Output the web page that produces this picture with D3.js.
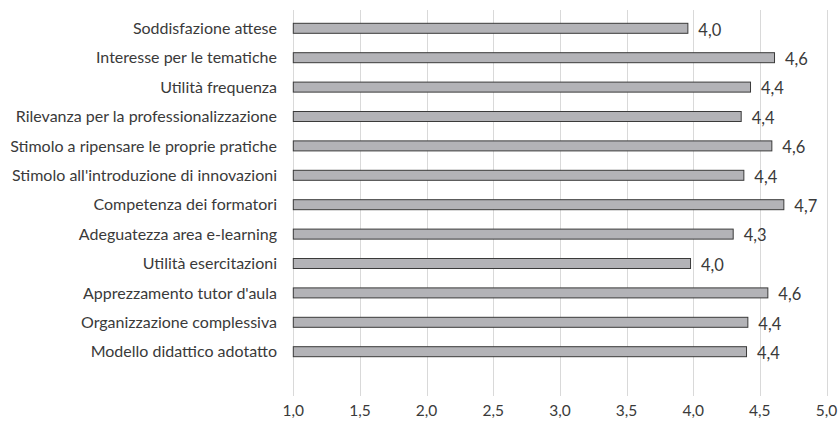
<!DOCTYPE html>
<html>
<head>
<meta charset="utf-8">
<script src="https://cdn.jsdelivr.net/npm/d3@7"></script>
<style>
  html, body { margin: 0; padding: 0; background: #fff; }
  svg { display: block; }
  text { font-family: Lato, "Open Sans", sans-serif; fill: #3a3a3a; }
</style>
</head>
<body>
<svg id="chart" width="838" height="426"></svg>
<script>
const categories = [
  "Soddisfazione attese",
  "Interesse per le tematiche",
  "Utilità frequenza",
  "Rilevanza per la professionalizzazione",
  "Stimolo a ripensare le proprie pratiche",
  "Stimolo all'introduzione di innovazioni",
  "Competenza dei formatori",
  "Adeguatezza area e-learning",
  "Utilità esercitazioni",
  "Apprezzamento tutor d'aula",
  "Organizzazione complessiva",
  "Modello didattico adotatto "
];
const values = [3.96, 4.61, 4.43, 4.36, 4.59, 4.38, 4.68, 4.30, 3.98, 4.56, 4.41, 4.40];
const valueLabels = ["4,0", "4,6", "4,4", "4,4", "4,6", "4,4", "4,7", "4,3", "4,0", "4,6", "4,4", "4,4"];
const tickValues = [1.0, 1.5, 2.0, 2.5, 3.0, 3.5, 4.0, 4.5, 5.0];
const tickLabels = ["1,0", "1,5", "2,0", "2,5", "3,0", "3,5", "4,0", "4,5", "5,0"];

const svg = d3.select("#chart");
const x = d3.scaleLinear().domain([1, 5]).range([293.3, 826.5]);
const y = d3.scaleBand().domain(categories).range([13.6, 366.4]).paddingInner(0.66).paddingOuter(0.33);

const gridTop = 10, gridBottom = 396;

// gridlines
svg.append("g").selectAll("line").data(tickValues).join("line")
  .attr("x1", d => Math.round(x(d)) + 0.5).attr("x2", d => Math.round(x(d)) + 0.5)
  .attr("y1", gridTop).attr("y2", gridBottom)
  .attr("stroke", "#d9d9d9").attr("stroke-width", 1);

// x tick labels
svg.append("g").selectAll("text").data(tickValues).join("text")
  .attr("x", d => x(d)).attr("y", 416)
  .attr("text-anchor", "middle")
  .style("font-size", "15.5px")
  .text((d, i) => tickLabels[i]);

// bars
svg.append("g").selectAll("rect").data(categories).join("rect")
  .attr("x", x(1))
  .attr("y", d => y(d))
  .attr("width", (d, i) => x(values[i]) - x(1))
  .attr("height", y.bandwidth())
  .attr("fill", "#b3b3b7")
  .attr("stroke", "#3a3a3a")
  .attr("stroke-width", 1);

// category labels
svg.append("g").selectAll("text").data(categories).join("text")
  .attr("x", 277)
  .attr("y", d => y(d) + y.bandwidth() / 2)
  .attr("dy", "0.35em")
  .attr("text-anchor", "end")
  .style("font-size", "16px")
  .text(d => d);

// value labels
svg.append("g").selectAll("text").data(categories).join("text")
  .attr("x", (d, i) => x(values[i]) + 10.5)
  .attr("y", d => y(d) + y.bandwidth() / 2 + 1.5)
  .attr("dy", "0.35em")
  .style("font-size", "16.5px")
  .text((d, i) => valueLabels[i]);
</script>
</body>
</html>
